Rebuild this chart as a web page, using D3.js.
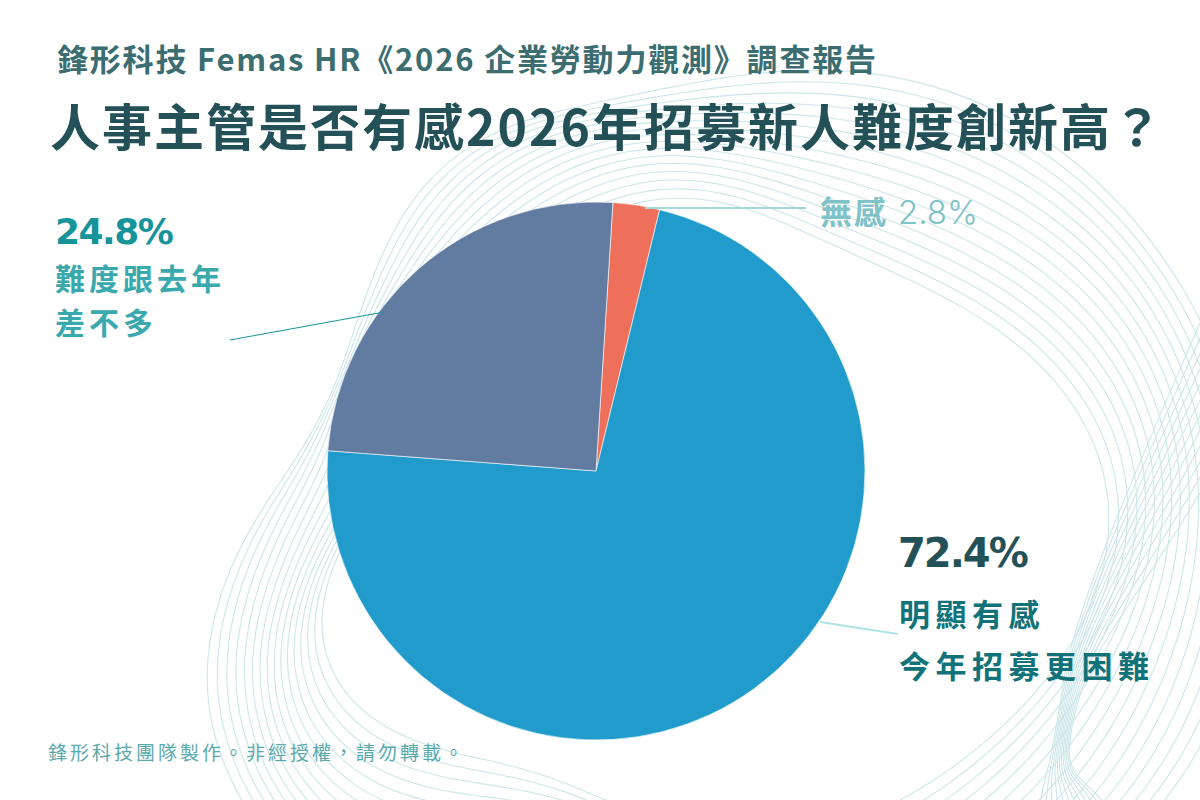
<!DOCTYPE html>
<html>
<head>
<meta charset="utf-8">
<script src="https://cdn.jsdelivr.net/npm/d3@7"></script>
<style>
  html, body { margin: 0; padding: 0; background: #ffffff; }
  svg { display: block; }
</style>
</head>
<body>
<svg id="chart" width="1200" height="800"></svg>
<script>
// ---- data ----
const categories = ["無感", "明顯有感今年招募更困難", "難度跟去年差不多"];
const values = [2.8, 72.4, 24.8];
const sliceColors = ["#ee705b", "#209bcc", "#617ca0"];
const pctLabels = ["2.8%", "72.4%", "24.8%"];

const subtitle = "鋒形科技 Femas HR《2026 企業勞動力觀測》調查報告";
const title = "人事主管是否有感2026年招募新人難度創新高？";
const footer = "鋒形科技團隊製作。非經授權，請勿轉載。";

const W = 1200, H = 800;
const cjk = "'Noto Sans CJK TC', 'Noto Sans CJK SC', 'Noto Sans', sans-serif";
const numFont = "'DejaVu Sans', sans-serif";
const svg = d3.select("#chart");

// ---- pie geometry ----
const cx = 596, cy = 471, R = 269;

// ---- background decoration (flowing contour lines) ----
const deco = svg.append("g").attr("fill", "none").attr("stroke", "#cde6e9").attr("stroke-width", 1.1);
const baseR = d3.interpolateBasisClosed([250, 290, 370, 525, 505, 420, 300, 330, 330, 190, 215, 240]);
const stepR = d3.interpolateBasisClosed([7, 12, 13, 11, 10, 10, 10, 12, 11, 4, 5, 6]);
const ringLine = d3.lineRadial().curve(d3.curveCardinalClosed);
for (let i = 0; i < 16; i++) {
  const pts = d3.range(0, 360, 3).map(deg => {
    const t = deg / 360;
    const th = deg * Math.PI / 180;
    const r = baseR(t) + i * stepR(t) + 11 * Math.sin(5 * th + i * 0.22);
    return [th, r];
  });
  deco.append("path")
    .attr("transform", `translate(${cx},${cy})`)
    .attr("d", ringLine(pts));
}
// bottom-right sheaf
for (let k = 0; k < 12; k++) {
  const y0 = 300 + k * 16;
  deco.append("path")
    .attr("d", `M1210,${y0} C${1150 - k * 2},${y0 + 140} ${1075 + k * 1.5},${600 + k * 4} ${1062 + k * 1.2},${690 + k * 2} S${1045 + k * 3},${770} ${1040 + k * 6},805`);
}

// ---- pie ----
const start = 0.063;
const pie = d3.pie().sort(null).value(d => d).startAngle(start).endAngle(start + 2 * Math.PI);
const arc = d3.arc().innerRadius(0).outerRadius(R);
const arcs = pie(values);
svg.append("g").attr("transform", `translate(${cx},${cy})`)
  .selectAll("path").data(arcs).join("path")
  .attr("d", arc)
  .attr("fill", (d, i) => sliceColors[i])
  .attr("stroke", "#ffffff").attr("stroke-width", 0.6);

// ---- leader lines ----
svg.append("line").attr("x1", 645).attr("y1", 208).attr("x2", 806).attr("y2", 208)
  .attr("stroke", "#a7d6da").attr("stroke-width", 2);
svg.append("line").attr("x1", 384).attr("y1", 312).attr("x2", 230).attr("y2", 340)
  .attr("stroke", "#1a9199").attr("stroke-width", 1);
svg.append("line").attr("x1", 820).attr("y1", 622).attr("x2", 898).attr("y2", 634)
  .attr("stroke", "#aee3e8").attr("stroke-width", 2);

function txt(x, y, s, size, weight, fill, ls, fam) {
  return svg.append("text").attr("x", x).attr("y", y)
    .style("font-family", fam || cjk).style("font-size", size + "px")
    .style("font-weight", weight).style("letter-spacing", (ls || 0) + "px")
    .attr("fill", fill).text(s);
}

// ---- titles ----
txt(57, 71, subtitle, 31, 700, "#3b6d71", 1.8);
txt(50, 146, title, 50, 700, "#245157", 2);

// ---- labels ----
txt(55, 244, pctLabels[2], 36, 700, "#17939a", -1.5, numFont);
txt(55, 290, "難度跟去年", 30, 700, "#3aa9ae", 4);
txt(55, 334, "差不多", 30, 700, "#3aa9ae", 4);

const t1 = svg.append("text").attr("x", 820).attr("y", 224).attr("fill", "#7fc2c7");
t1.append("tspan").style("font-family", cjk).style("font-size", "32px").style("font-weight", 700)
  .style("letter-spacing", "2px").text(categories[0]);
t1.append("tspan").attr("dx", 10).style("font-family", "Inter, 'DejaVu Sans', sans-serif").style("font-size", "33px")
  .style("font-weight", 300).style("letter-spacing", "0px").text(pctLabels[0]);

txt(898, 567, pctLabels[1], 40, 700, "#245157", -2, numFont);
txt(899, 626, "明顯有感", 31, 700, "#12727a", 5.5);
txt(899, 678, "今年招募更困難", 31, 700, "#12727a", 5.5);

// footer
txt(48, 760, footer, 19, 400, "#5aa9ad", 3);
</script>
</body>
</html>
